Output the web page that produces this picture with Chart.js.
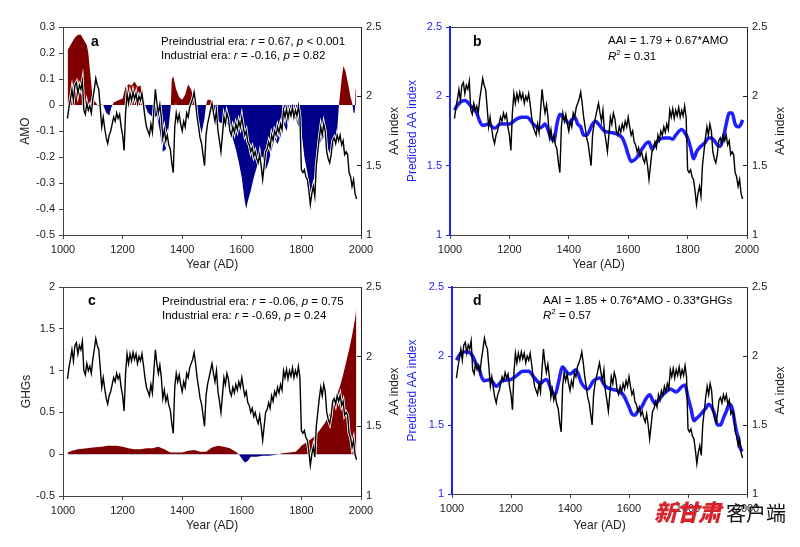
<!DOCTYPE html>
<html>
<head>
<meta charset="utf-8">
<script src="https://cdn.jsdelivr.net/npm/chart.js@4.4.0/dist/chart.umd.min.js"></script>
<style>
  body { margin: 0; background: #fff; width: 800px; height: 547px; position: relative; overflow: hidden; }
  canvas { position: absolute; }
  #logo { position: absolute; left: 654px; top: 494px; white-space: nowrap; }
  #logo .red { font-family: "Noto Sans CJK SC", sans-serif; font-weight: 900; font-style: italic; font-size: 23px; color: #d8232a; letter-spacing: -1px; }
  #logo .blk { font-family: "Noto Sans CJK SC", sans-serif; font-size: 20px; color: #111; margin-left: 6px; }
</style>
</head>
<body>
<canvas id="panelA" width="400" height="275" style="left:0;top:0"></canvas>
<canvas id="panelB" width="400" height="275" style="left:400px;top:0"></canvas>
<canvas id="panelC" width="400" height="277" style="left:0;top:270px"></canvas>
<canvas id="panelD" width="400" height="277" style="left:400px;top:270px"></canvas>
<div id="logo"><span class="red">新甘肃</span><span class="blk">客户端</span></div>
<script>
// AA index (black line, right axis), every 5 years from 1015
const aaiStart = 1015, aaiStep = 5;
const aaiValues = [
  1.84,1.92,1.98,2.05,1.97,2.08,2.1,2.02,2.08,2.05,
  2.11,1.9,1.87,1.95,1.9,1.93,1.88,1.98,2.05,2.13,
  2.08,2.05,1.92,1.78,1.85,1.77,1.7,1.66,1.72,1.75,
  1.8,1.85,1.82,1.88,1.84,1.87,1.78,1.72,1.61,1.88,
  2.02,1.95,2.02,1.97,2.03,1.98,2.02,1.95,2.0,1.97,
  2.02,1.94,1.85,1.78,1.75,1.72,1.8,1.74,1.9,2.05,
  1.95,1.88,1.94,1.85,1.7,1.76,1.68,1.72,1.65,1.62,
  1.52,1.45,1.78,1.88,1.82,1.87,1.8,1.75,1.82,1.78,
  1.88,1.85,1.92,1.95,1.98,2.03,1.95,1.85,1.78,1.7,
  1.66,1.58,1.5,1.72,1.8,1.85,1.9,1.95,1.88,1.82,
  1.9,1.75,1.68,1.6,1.72,1.85,1.8,1.88,1.84,1.75,
  1.72,1.78,1.74,1.8,1.76,1.82,1.78,1.85,1.78,1.72,
  1.75,1.67,1.65,1.6,1.63,1.57,1.6,1.55,1.52,1.58,
  1.5,1.4,1.5,1.6,1.62,1.67,1.63,1.72,1.68,1.75,
  1.72,1.78,1.74,1.8,1.76,1.9,1.85,1.91,1.84,1.9,
  1.86,1.92,1.85,1.9,1.86,1.93,1.85,1.47,1.45,1.47,
  1.42,1.4,1.32,1.22,1.3,1.35,1.28,1.5,1.6,1.7,
  1.78,1.72,1.8,1.75,1.6,1.55,1.52,1.58,1.68,1.7,
  1.66,1.72,1.68,1.72,1.65,1.68,1.58,1.6,1.58,1.45,
  1.42,1.35,1.4,1.3,1.26
];

// AMO (panel a, filled)
const amoYears = [1015,1020,1030,1040,1050,1060,1070,1080,1085,1090,1095,1100,1110,1118,1125,1135,1145,1155,1162,1170,
  1180,1190,1200,1210,1220,1230,1240,1250,1260,1265,1270,1275,1285,1295,1305,1315,1325,1335,1345,1355,
  1362,1365,1370,1380,1390,1400,1410,1420,1430,1440,1445,1455,1465,1475,1480,1485,1495,1500,1510,1520,
  1530,1540,1550,1560,1570,1580,1590,1600,1610,1615,1620,1630,1640,1650,1660,1670,1680,1690,1700,1710,
  1720,1730,1740,1750,1760,1770,1780,1790,1800,1810,1820,1830,1840,1850,1860,1870,1880,1890,1900,1910,
  1920,1926,1935,1941,1948,1957,1965,1970,1975,1979,1982,1984];
const amoValues = [0.21,0.22,0.24,0.26,0.27,0.27,0.25,0.23,0.2,0.14,0.08,0.02,0.01,-0.005,0.005,0,-0.03,-0.04,-0.01,0.01,
  0.015,0.02,0.025,0.07,0.08,0.075,0.09,0.07,0.075,0.05,0.03,0,-0.03,-0.04,-0.05,-0.04,-0.1,-0.18,-0.17,-0.08,
  0,0.1,0.11,0.06,0.03,0.02,0.04,0.08,0.06,0.02,-0.02,-0.06,-0.11,-0.05,0,0.02,0.02,0,-0.04,-0.06,
  -0.07,-0.06,-0.07,-0.09,-0.13,-0.17,-0.22,-0.28,-0.37,-0.4,-0.37,-0.33,-0.28,-0.24,-0.2,-0.2,-0.25,-0.22,-0.17,-0.13,
  -0.15,-0.12,-0.07,-0.1,-0.05,-0.03,-0.05,-0.08,-0.1,-0.2,-0.26,-0.34,-0.3,-0.24,-0.15,-0.13,-0.12,-0.17,-0.2,-0.15,
  -0.1,0,0.1,0.15,0.13,0.08,0.03,0.01,-0.03,-0.03,0.06,0.06];

// GHGs (panel c, filled)
const ghgYears = [1015,1030,1050,1080,1100,1130,1150,1180,1200,1220,1240,1260,1280,1300,1320,1340,1360,1380,1400,1420,
  1440,1460,1480,1500,1520,1540,1560,1580,1590,1600,1610,1620,1630,1650,1670,1690,1710,1725,1735,1760,
  1780,1790,1800,1820,1840,1860,1880,1900,1910,1920,1930,1940,1950,1960,1970,1980,1985];
const ghgValues = [0.02,0.04,0.06,0.07,0.08,0.09,0.1,0.1,0.09,0.07,0.06,0.06,0.07,0.07,0.09,0.06,0.02,0.02,0.02,0.04,
  0.05,0.03,0.03,0.08,0.1,0.09,0.07,0.03,0,-0.05,-0.1,-0.08,-0.03,-0.03,-0.02,-0.02,-0.01,0,0.01,0.02,
  0.03,0.06,0.1,0.15,0.2,0.28,0.38,0.52,0.62,0.72,0.82,0.95,1.1,1.25,1.42,1.62,1.75];

// Predicted AA index from AMO (panel b)
const predBYears = [1015,1030,1050,1070,1090,1100,1110,1130,1150,1170,1200,1220,1240,1260,1280,1300,1310,1320,1340,1350,
  1360,1370,1380,1390,1400,1410,1420,1430,1440,1450,1460,1480,1490,1500,1520,1540,1560,1570,1580,1590,
  1600,1610,1620,1630,1640,1650,1660,1670,1680,1690,1700,1720,1740,1750,1760,1780,1790,1800,1810,1820,
  1830,1840,1860,1870,1880,1890,1900,1910,1920,1930,1940,1950,1960,1970,1980,1985];
const predBValues = [1.9,1.95,1.97,1.93,1.88,1.82,1.79,1.8,1.77,1.8,1.8,1.83,1.85,1.85,1.8,1.77,1.78,1.8,1.7,1.68,
  1.8,1.87,1.85,1.83,1.8,1.83,1.85,1.8,1.78,1.72,1.72,1.8,1.82,1.8,1.75,1.74,1.73,1.72,1.7,1.65,
  1.58,1.53,1.54,1.56,1.6,1.63,1.66,1.67,1.62,1.65,1.68,1.7,1.7,1.69,1.72,1.76,1.74,1.7,1.63,1.55,
  1.6,1.63,1.67,1.7,1.7,1.68,1.65,1.64,1.7,1.8,1.88,1.88,1.8,1.78,1.8,1.83];

// Predicted AA index from AMO and GHGs (panel d)
const predDYears = [1015,1030,1050,1070,1080,1090,1100,1110,1130,1150,1170,1200,1220,1240,1260,1280,1300,1310,1320,1340,
  1350,1360,1375,1390,1400,1420,1440,1460,1480,1500,1520,1540,1560,1580,1600,1610,1620,1630,1640,1660,
  1670,1680,1690,1700,1720,1740,1760,1780,1790,1800,1810,1820,1830,1840,1860,1870,1880,1890,1900,1910,
  1920,1930,1940,1950,1960,1970,1980,1985];
const predDValues = [1.97,2.02,2.03,2.0,1.95,1.92,1.85,1.82,1.83,1.78,1.82,1.83,1.86,1.89,1.89,1.84,1.8,1.82,1.83,1.74,
  1.72,1.8,1.92,1.88,1.87,1.9,1.8,1.76,1.82,1.84,1.78,1.76,1.75,1.72,1.63,1.58,1.57,1.6,1.62,1.7,
  1.72,1.68,1.65,1.68,1.73,1.76,1.74,1.78,1.79,1.7,1.62,1.53,1.55,1.57,1.62,1.65,1.63,1.58,1.5,1.5,
  1.55,1.6,1.65,1.62,1.5,1.4,1.32,1.31];

const FONT = '"Liberation Sans", Arial, sans-serif';
Chart.defaults.font.family = FONT;
Chart.defaults.font.size = 11;
Chart.defaults.color = '#222';

const RED = '#800000', NAVY = '#00008b', BLUE = '#1e1eff', AXIS = '#444';

function pts(xs, ys) { return xs.map((x, i) => ({ x: x, y: ys[i] })); }
const aaiPoints = aaiValues.map((v, i) => ({ x: aaiStart + i * aaiStep, y: v }));
const fmt = v => String(Math.round(v * 10) / 10);

// frame top, panel letter, statistics text and right axis title
const panelText = {
  id: 'panelText',
  afterDraw(chart, args, opts) {
    const ctx = chart.ctx, a = chart.chartArea;
    ctx.save();
    ctx.strokeStyle = AXIS; ctx.lineWidth = 1;
    ctx.beginPath(); ctx.moveTo(a.left, a.top + 0.5); ctx.lineTo(a.right, a.top + 0.5); ctx.stroke();
    ctx.textBaseline = 'middle';
    ctx.fillStyle = '#000';
    ctx.font = 'bold 14px ' + FONT;
    ctx.fillText(opts.letter[0], a.left + opts.letter[1], a.top + opts.letter[2]);
    opts.lines.forEach(line => {
      let x = a.left + line.x;
      const y = a.top + line.y;
      line.runs.forEach(r => {
        const [txt, style] = r;
        if (style === 'sup') {
          ctx.font = '8px ' + FONT;
          ctx.fillText(txt, x, y - 4);
        } else {
          ctx.font = (style === 'i' ? 'italic ' : '') + '11.5px ' + FONT;
          ctx.fillText(txt, x, y);
        }
        x += ctx.measureText(txt).width;
      });
    });
    ctx.translate(a.right + 34, (a.top + a.bottom) / 2);
    ctx.rotate(-Math.PI / 2);
    ctx.textAlign = 'center';
    ctx.font = '12px ' + FONT;
    ctx.fillStyle = '#222';
    ctx.fillText('AA index', 0, 0);
    ctx.restore();
  }
};

function makePanel(id, cfg) {
  const ctx = document.getElementById(id).getContext('2d');
  return new Chart(ctx, {
    type: 'line',
    data: { datasets: cfg.datasets },
    options: {
      responsive: false,
      animation: false,
      events: [],
      layout: { padding: { top: cfg.top, left: 0, right: 0, bottom: 0 } },
      elements: { point: { radius: 0 }, line: { tension: 0 } },
      plugins: { legend: { display: false }, tooltip: { enabled: false }, panelText: cfg.text },
      scales: {
        x: {
          type: 'linear', min: 1000, max: 2000,
          ticks: { stepSize: 200, padding: 4, color: '#222', callback: v => String(v) },
          grid: { drawOnChartArea: false, tickLength: 4, color: AXIS },
          border: { color: AXIS },
          title: { display: true, text: 'Year (AD)', color: '#222', font: { size: 12 }, padding: { top: 0, bottom: cfg.xTitlePad } },
          afterFit: s => { s.height = cfg.xHeight; }
        },
        yL: {
          position: 'left', min: cfg.yL.min, max: cfg.yL.max,
          ticks: { stepSize: cfg.yL.step, padding: 4, color: cfg.yL.color, callback: fmt },
          grid: { drawOnChartArea: false, tickLength: 4, color: cfg.yL.axis },
          border: { color: cfg.yL.axis, width: cfg.yL.bw },
          title: { display: true, text: cfg.yL.title, color: cfg.yL.color, font: { size: 12 }, padding: { top: cfg.yL.titlePad, bottom: 0 } },
          afterFit: s => { s.width = cfg.leftWidth; }
        },
        yR: {
          position: 'right', min: 1, max: 2.5,
          ticks: { stepSize: 0.5, padding: 9, color: '#222', callback: fmt },
          grid: { drawOnChartArea: false, tickLength: -4, color: '#222' },
          border: { color: '#222' },
          afterFit: s => { s.width = 400 - cfg.right; }
        }
      }
    },
    plugins: [panelText]
  });
}

function aaiLine(halo) {
  const sets = [];
  if (halo) sets.push({ data: aaiPoints, yAxisID: 'yR', borderColor: '#fff', borderWidth: 3, fill: false, order: 2 });
  sets.push({ data: aaiPoints, yAxisID: 'yR', borderColor: '#000', borderWidth: 1.4, fill: false, order: 1 });
  return sets;
}

// Panel a
makePanel('panelA', {
  top: 27, xHeight: 40, xTitlePad: 3, leftWidth: 63, right: 361,
  yL: { min: -0.5, max: 0.3, step: 0.1, color: '#222', axis: AXIS, bw: 1, title: 'AMO', titlePad: 18 },
  datasets: [
    { data: pts(amoYears, amoValues), yAxisID: 'yL', borderWidth: 0, borderColor: 'rgba(0,0,0,0)',
      fill: { target: { value: 0 }, above: RED, below: NAVY }, order: 3 },
    ...aaiLine(true)
  ],
  text: {
    letter: ['a', 28, 15],
    lines: [
      { x: 98, y: 15, runs: [['Preindustrial era: '], ['r', 'i'], [' = 0.67, '], ['p', 'i'], [' < 0.001']] },
      { x: 98, y: 29, runs: [['Industrial era: '], ['r', 'i'], [' = -0.16, '], ['p', 'i'], [' = 0.82']] }
    ]
  }
});

// Panel b
makePanel('panelB', {
  top: 27, xHeight: 40, xTitlePad: 3, leftWidth: 50, right: 347,
  yL: { min: 1, max: 2.5, step: 0.5, color: BLUE, axis: BLUE, bw: 2, title: 'Predicted AA index', titlePad: 5 },
  datasets: [
    { data: pts(predBYears, predBValues), yAxisID: 'yL', borderColor: BLUE, borderWidth: 3.5, fill: false,
      tension: 0.4, cubicInterpolationMode: 'monotone', order: 3 },
    ...aaiLine(false)
  ],
  text: {
    letter: ['b', 23, 15],
    lines: [
      { x: 158, y: 14, runs: [['AAI = 1.79 + 0.67*AMO']] },
      { x: 158, y: 30, runs: [['R', 'i'], ['2', 'sup'], [' = 0.31']] }
    ]
  }
});

// Panel c
makePanel('panelC', {
  top: 17, xHeight: 51, xTitlePad: 14, leftWidth: 63, right: 361,
  yL: { min: -0.5, max: 2, step: 0.5, color: '#222', axis: AXIS, bw: 1, title: 'GHGs', titlePad: 19 },
  datasets: [
    { data: pts(ghgYears, ghgValues), yAxisID: 'yL', borderWidth: 0, borderColor: 'rgba(0,0,0,0)',
      fill: { target: { value: 0 }, above: RED, below: NAVY }, order: 3 },
    ...aaiLine(true)
  ],
  text: {
    letter: ['c', 25, 14],
    lines: [
      { x: 99, y: 15, runs: [['Preindustrial era: '], ['r', 'i'], [' = -0.06, '], ['p', 'i'], [' = 0.75']] },
      { x: 99, y: 29, runs: [['Industrial era: '], ['r', 'i'], [' = -0.69, '], ['p', 'i'], [' = 0.24']] }
    ]
  }
});

// Panel d
makePanel('panelD', {
  top: 17, xHeight: 53, xTitlePad: 14, leftWidth: 52, right: 347,
  yL: { min: 1, max: 2.5, step: 0.5, color: BLUE, axis: BLUE, bw: 2, title: 'Predicted AA index', titlePad: 5 },
  datasets: [
    { data: pts(predDYears, predDValues), yAxisID: 'yL', borderColor: BLUE, borderWidth: 3.5, fill: false,
      tension: 0.4, cubicInterpolationMode: 'monotone', order: 3 },
    ...aaiLine(false)
  ],
  text: {
    letter: ['d', 21, 14],
    lines: [
      { x: 91, y: 14, runs: [['AAI = 1.85 + 0.76*AMO - 0.33*GHGs']] },
      { x: 91, y: 29, runs: [['R', 'i'], ['2', 'sup'], [' = 0.57']] }
    ]
  }
});
</script>
</body>
</html>
